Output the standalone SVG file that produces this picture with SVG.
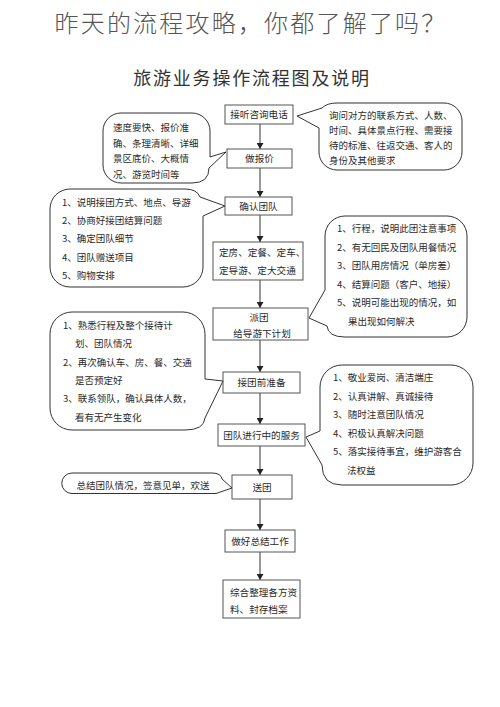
<svg xmlns="http://www.w3.org/2000/svg" width="500" height="707" viewBox="0 0 500 707">
<defs>
<style>
text{font-family:"Noto Sans CJK SC","Noto Sans",sans-serif;fill:#2a2a2a}
.t{font-size:24px;fill:#555;letter-spacing:2.2px;font-weight:300}
.st{font-size:18px;fill:#333;letter-spacing:1.8px}
.b{font-size:9.6px}
.c{font-size:9.5px}
.box{fill:#fff;stroke:#555;stroke-width:1}
.bub{fill:#fff;stroke:#333;stroke-width:1;stroke-linejoin:round}
.con{stroke:#333;stroke-width:1;fill:none}
</style>
<marker id="arr" markerWidth="6" markerHeight="7" refX="6" refY="3.5" orient="auto" markerUnits="userSpaceOnUse"><path d="M0,0 L6,3.5 L0,7 z" fill="#222"/></marker>
</defs>
<rect width="500" height="707" fill="#fff"/>
<text class="t" x="251" y="32" text-anchor="middle">昨天的流程攻略，你都了解了吗？</text>
<text class="st" x="252" y="85" text-anchor="middle">旅游业务操作流程图及说明</text>

<g id="connectors">
<line class="con" x1="260" y1="124" x2="260" y2="149" marker-end="url(#arr)"/>
<line class="con" x1="260" y1="168" x2="260" y2="197" marker-end="url(#arr)"/>
<line class="con" x1="260" y1="215" x2="260" y2="242" marker-end="url(#arr)"/>
<line class="con" x1="260" y1="280" x2="260" y2="308" marker-end="url(#arr)"/>
<line class="con" x1="260" y1="340" x2="260" y2="372" marker-end="url(#arr)"/>
<line class="con" x1="260" y1="393" x2="260" y2="424" marker-end="url(#arr)"/>
<line class="con" x1="260" y1="446" x2="260" y2="475" marker-end="url(#arr)"/>
<line class="con" x1="260" y1="499" x2="260" y2="530" marker-end="url(#arr)"/>
<line class="con" x1="260" y1="552" x2="260" y2="580" marker-end="url(#arr)"/>
</g>

<g id="n1"><rect class="box" x="225" y="105" width="68" height="19"/><text class="b" x="259" y="118" text-anchor="middle">接听咨询电话</text></g>
<g id="n2"><rect class="box" x="227" y="149" width="65" height="19"/><text class="b" x="259.5" y="162" text-anchor="middle">做报价</text></g>
<g id="n3"><rect class="box" x="225" y="197" width="67" height="18"/><text class="b" x="258.5" y="210" text-anchor="middle">确认团队</text></g>
<g id="n4"><rect class="box" x="213" y="242" width="90" height="38"/><text class="b" x="219" y="256">定房、定餐、定车、</text><text class="b" x="219" y="274">定导游、定大交通</text></g>
<g id="n5"><rect class="box" x="213" y="308" width="95" height="32"/><text class="b" x="259" y="320.5" text-anchor="middle">派团</text><text class="b" x="262" y="337" text-anchor="middle">给导游下计划</text></g>
<g id="n6"><rect class="box" x="223" y="372" width="77" height="21"/><text class="b" x="261.5" y="386" text-anchor="middle">接团前准备</text></g>
<g id="n7"><rect class="box" x="218" y="424" width="87" height="22"/><text class="b" x="261.5" y="439" text-anchor="middle">团队进行中的服务</text></g>
<g id="n8"><rect class="box" x="232" y="475" width="60" height="24"/><text class="b" x="262" y="491" text-anchor="middle">送团</text></g>
<g id="n9"><rect class="box" x="225" y="530" width="70" height="22"/><text class="b" x="260" y="545" text-anchor="middle">做好总结工作</text></g>
<g id="n10"><rect class="box" x="223" y="580" width="77" height="38"/><text class="b" x="230" y="596">综合整理各方资</text><text class="b" x="230" y="613">料、封存档案</text></g>

<g id="noteA">
<path class="bub" d="M337,103 H444 A18,18 0 0 1 462,121 V152 A18,18 0 0 1 444,170 H337 A18,18 0 0 1 319,152 V128 L297,116 L322,108 Q327,103 337,103 Z"/>
<text class="c" x="329" y="119">询问对方的联系方式、人数、</text>
<text class="c" x="329" y="134">时间、具体景点行程、需要接</text>
<text class="c" x="329" y="149">待的标准、往返交通、客人的</text>
<text class="c" x="329" y="164">身份及其他要求</text>
</g>
<g id="noteB">
<path class="bub" d="M121,113 H192 A18,18 0 0 1 210,131 V157 L226,152 L209,168 Q209,183 192,183 H121 A18,18 0 0 1 103,165 V131 A18,18 0 0 1 121,113 Z"/>
<text class="c" x="113" y="131">速度要快、报价准</text>
<text class="c" x="113" y="147">确、条理清晰、详细</text>
<text class="c" x="113" y="162">景区底价、大概情</text>
<text class="c" x="113" y="177.5">况、游览时间等</text>
</g>
<g id="noteC">
<path class="bub" d="M70,189 H185 Q197,189 200,197 L225,206 L203,216 V267 A20,20 0 0 1 183,287 H70 A20,20 0 0 1 50,267 V209 A20,20 0 0 1 70,189 Z"/>
<text class="c" x="62" y="206">1、说明接团方式、地点、导游</text>
<text class="c" x="62" y="224">2、协商好接团结算问题</text>
<text class="c" x="62" y="242">3、确定团队细节</text>
<text class="c" x="62" y="261">4、团队赠送项目</text>
<text class="c" x="62" y="279">5、购物安排</text>
</g>
<g id="noteD">
<path class="bub" d="M345,216 H447 A20,20 0 0 1 467,236 V317 A20,20 0 0 1 447,337 H345 Q328,337 327,326 L309,318 L325,290 V236 A20,20 0 0 1 345,216 Z"/>
<text class="c" x="337" y="232">1、行程，说明此团注意事项</text>
<text class="c" x="337" y="250.5">2、有无回民及团队用餐情况</text>
<text class="c" x="337" y="269">3、团队用房情况（单房差）</text>
<text class="c" x="337" y="287.5">4、结算问题（客户、地接）</text>
<text class="c" x="337" y="306">5、说明可能出现的情况，如</text>
<text class="c" x="348" y="324.5">果出现如何解决</text>
</g>
<g id="noteE">
<path class="bub" d="M72,312 H183 A22,22 0 0 1 205,334 V379 L223,381 L205,418 Q204,430 185,430 H72 A22,22 0 0 1 50,408 V334 A22,22 0 0 1 72,312 Z"/>
<text class="c" x="63" y="329">1、熟悉行程及整个接待计</text>
<text class="c" x="75" y="347">划、团队情况</text>
<text class="c" x="63" y="366">2、再次确认车、房、餐、交通</text>
<text class="c" x="75" y="384">是否预定好</text>
<text class="c" x="63" y="402">3、联系领队，确认具体人数，</text>
<text class="c" x="75" y="421">看有无产生变化</text>
</g>
<g id="noteF">
<path class="bub" d="M342,365 H451 A22,22 0 0 1 473,387 V463 A22,22 0 0 1 451,485 H342 Q322,485 322,465 L306,437 L320,431 V387 A22,22 0 0 1 342,365 Z"/>
<text class="c" x="333" y="381">1、敬业爱岗、清洁端庄</text>
<text class="c" x="333" y="400">2、认真讲解、真诚接待</text>
<text class="c" x="333" y="418">3、随时注意团队情况</text>
<text class="c" x="333" y="437">4、积极认真解决问题</text>
<text class="c" x="333" y="455">5、落实接待事宜，维护游客合</text>
<text class="c" x="347" y="474">法权益</text>
</g>
<g id="noteG">
<path class="bub" d="M72,473 H212 Q221,473 222,479 L232,488 L216,493.5 H72 A10.25,10.25 0 0 1 72,473 Z"/>
<text class="c" x="143" y="489" text-anchor="middle">总结团队情况，签意见单，欢送</text>
</g>
</svg>
